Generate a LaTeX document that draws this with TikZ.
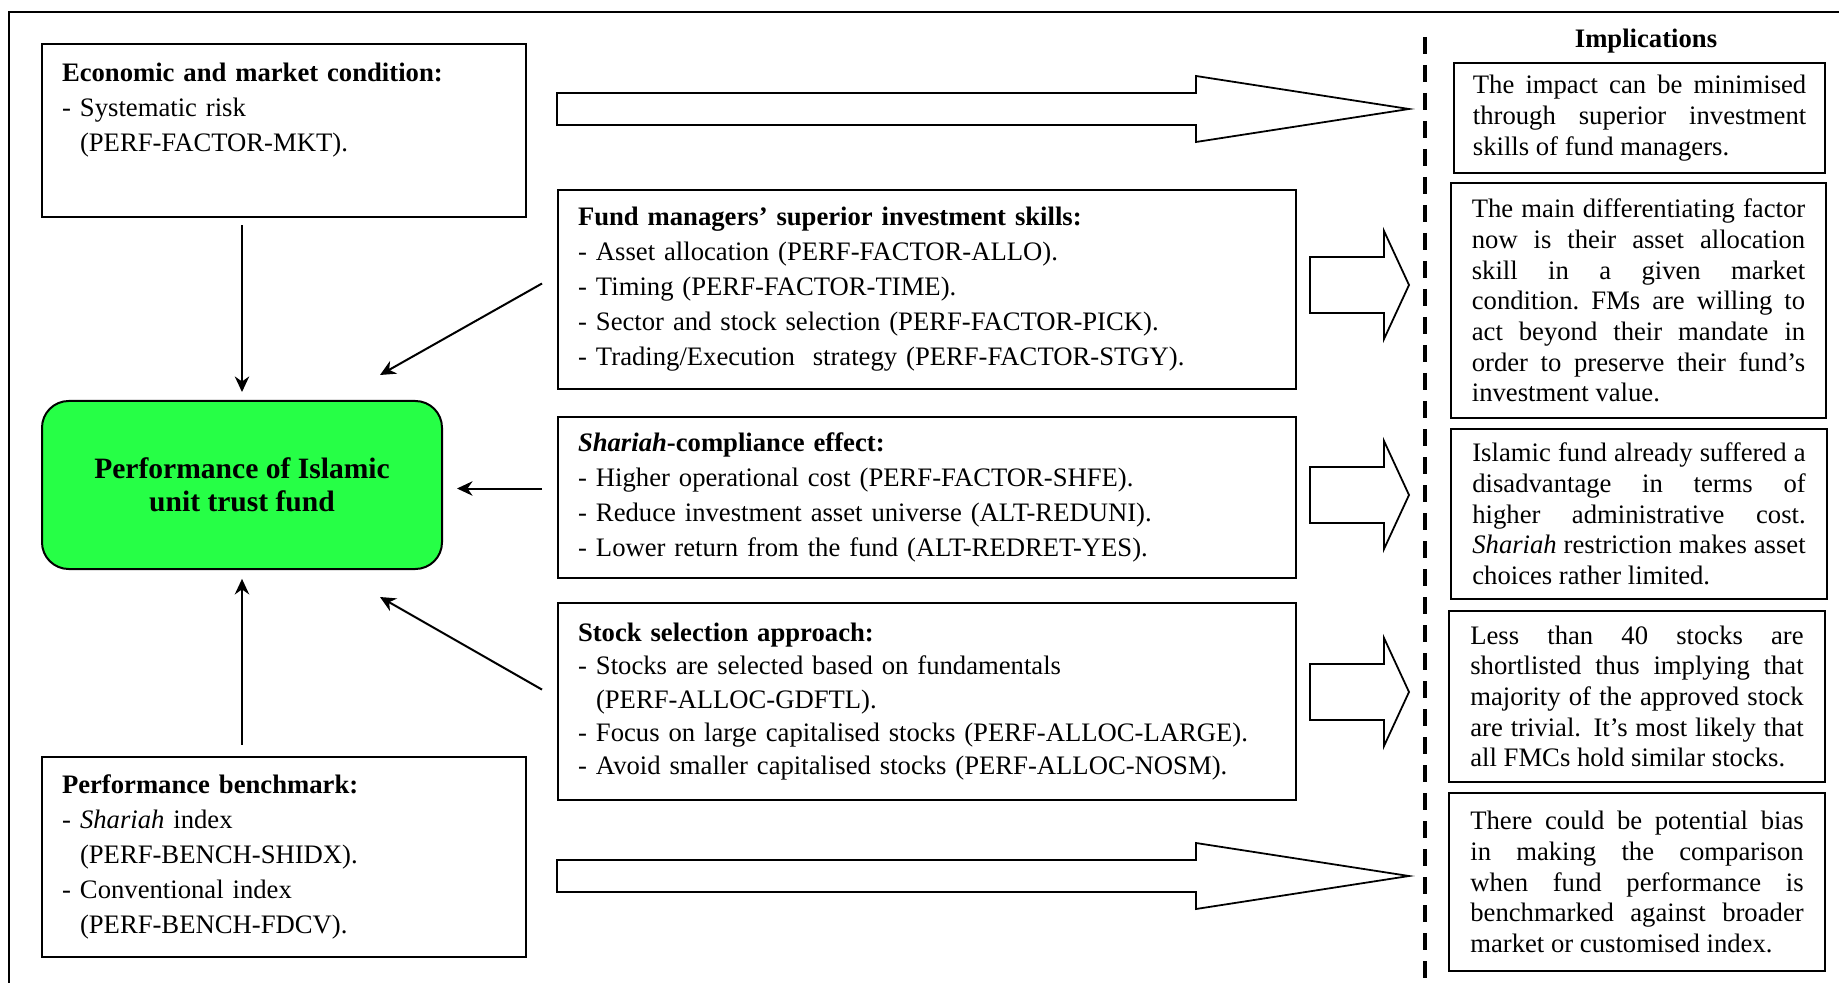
\documentclass[tikz,border=0pt]{standalone}
\usepackage{fontspec}
\setmainfont{Liberation Serif}
\usepackage{xcolor}
\usepackage{tikz}
\usetikzlibrary{positioning, arrows.meta}

\definecolor{fundgreen}{RGB}{38,255,70}
\newcommand{\itm}{\makebox[8.1pt][l]{-}}
\newcommand{\cnt}{\hspace*{8.1pt}}

\tikzset{
	factor/.style={draw, line width=0.9pt, inner xsep=9pt, inner ysep=3pt, align=left,
			font=\fontsize{12}{15.75}\selectfont, anchor=north west},
	implic/.style={draw, line width=0.9pt, inner xsep=8.5pt, inner ysep=3pt, text width=150pt,
			align=justify, font=\fontsize{12}{13.8}\selectfont, anchor=north west},
	blockarrow/.style={draw, line width=0.8pt, fill=white},
}

\begin{document}
\begin{tikzpicture}[x=0.45pt, y=-0.45pt, >={Stealth[length=7pt, width=6.5pt]}, line width=0.9pt]
			\useasboundingbox (0,0) rectangle (1839,983);
			\draw (9,983) -- (9,12) -- (1839,12);

			\node[factor, text width=199.8pt, text height=13.7pt, text depth=58.15pt] (econ) at (41,43)
				{\textbf{Economic and market condition:}\\ \itm Systematic risk\\ \cnt(PERF-FACTOR-MKT).};
			\node[draw, fill=fundgreen, rounded corners=12pt, minimum width=180pt, minimum height=75.6pt,
				align=center, font=\bfseries\fontsize{13.3}{15}\selectfont, anchor=north west] (perf) at (41,400)
				{Performance of Islamic\\unit trust fund};
			\node[factor, text width=199.8pt, minimum height=90pt] (bench) at (41,756)
				{\textbf{Performance benchmark:}\\ \itm\textit{Shariah} index\\ \cnt(PERF-BENCH-SHIDX).\\
				\itm Conventional index\\ \cnt(PERF-BENCH-FDCV).};

			\node[factor, text width=314.1pt, minimum height=89.55pt] (fund) at (557,189)
				{\textbf{Fund managers' superior investment skills:}\\ \itm Asset allocation (PERF-FACTOR-ALLO).\\
				\itm Timing (PERF-FACTOR-TIME).\\ \itm Sector and stock selection (PERF-FACTOR-PICK).\\
				\itm Trading/Execution\ \ strategy (PERF-FACTOR-STGY).};
			\node[factor, text width=314.1pt, minimum height=72.45pt, below=11.7pt of fund] (shariah)
				{\textbf{\textit{Shariah}-compliance effect:}\\ \itm Higher operational cost (PERF-FACTOR-SHFE).\\
				\itm Reduce investment asset universe (ALT-REDUNI).\\ \itm Lower return from the fund (ALT-REDRET-YES).};
			\node[factor, font=\fontsize{12}{14.9}\selectfont, text width=314.1pt, minimum height=88.65pt,
				below=10.4pt of shariah] (stock)
				{\textbf{Stock selection approach:}\\ \itm Stocks are selected based on fundamentals\\
				\cnt(PERF-ALLOC-GDFTL).\\ \itm Focus on large capitalised stocks (PERF-ALLOC-LARGE).\\
				\itm Avoid smaller capitalised stocks (PERF-ALLOC-NOSM).};

			\node[font=\bfseries\fontsize{12}{14}\selectfont] (imphead) at (1646,41) {Implications};
			\node[implic, minimum width=167pt, minimum height=49.5pt] (imp1) at (1453,62)
				{The impact can be minimised\linebreak through superior investment\linebreak skills of fund managers.};
			\node[implic, minimum width=168.75pt, minimum height=105.75pt] (imp2) at (1450,182)
				{The main differentiating factor\linebreak now is their asset allocation\linebreak skill in a given market\linebreak
				condition.\ FMs are willing to\linebreak act beyond their mandate in\linebreak order to preserve their fund's\linebreak
				investment value.};
			\node[implic, minimum width=169.2pt, minimum height=76.5pt] (imp3) at (1450,428)
				{Islamic fund already suffered a\linebreak disadvantage in terms of\linebreak higher administrative cost.\linebreak
				\textit{Shariah} restriction makes asset\linebreak choices rather limited.};
			\node[implic, minimum width=169.2pt, minimum height=76.95pt] (imp4) at (1448,610)
				{Less than 40 stocks are\linebreak shortlisted thus implying that\linebreak majority of the approved stock\linebreak
				are trivial. It's most likely that\linebreak all FMCs hold similar stocks.};
			\node[implic, minimum width=169.2pt, minimum height=80.1pt] (imp5) at (1448,792)
				{There could be potential bias\linebreak in making the comparison\linebreak when fund performance is\linebreak
				benchmarked against broader\linebreak market or customised index.};

			\draw[line width=1.6pt, dash pattern=on 7.6pt off 5pt] (1425,37) -- (1425,983);

			\foreach \yc in {109, 876} {
					\draw[blockarrow] (557,\yc-16) -- (1196,\yc-16) -- (1196,\yc-33) -- (1409,\yc)
						-- (1196,\yc+33) -- (1196,\yc+16) -- (557,\yc+16) -- cycle;
				}
			\foreach \yc in {285, 495, 692} {
					\draw[blockarrow] (1310,\yc-28) -- (1384,\yc-28) -- (1384,\yc-54) -- (1409,\yc)
						-- (1384,\yc+54) -- (1384,\yc+28) -- (1310,\yc+28) -- cycle;
				}

			\coordinate (fundtip) at (380,375);
			\coordinate (stocktip) at (380,597);
			\coordinate (sharfrom) at ([shift={(-15,-9)}]shariah.west);
			\draw[->, shorten <=3.2pt, shorten >=3.6pt] (econ.south -| perf.north) -- (perf.north);
			\draw[->, shorten <=5pt, shorten >=4pt] (bench.north -| perf.south) -- (perf.south);
			\draw[->] ([shift={(-15,-6)}]fund.west) -- (fundtip);
			\draw[->, shorten >=6.3pt] (sharfrom) -- (sharfrom -| perf.east);
			\draw[->] ([shift={(-15,-12)}]stock.west) -- (stocktip);
		\end{tikzpicture}
\end{document}
